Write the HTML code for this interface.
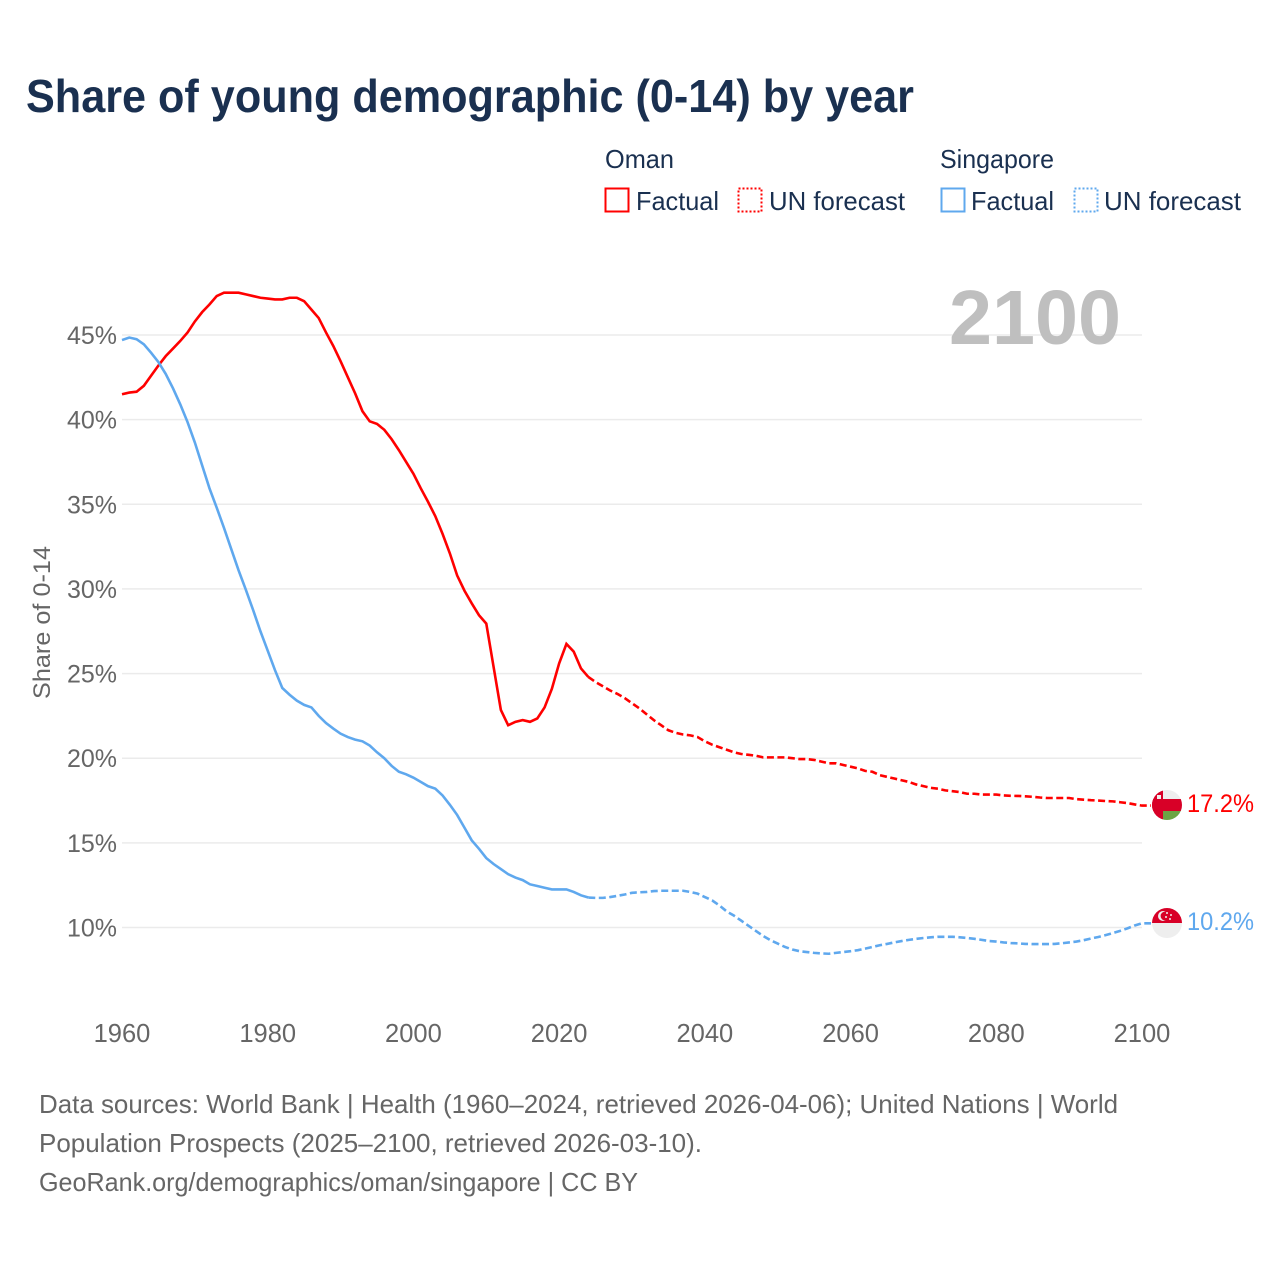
<!DOCTYPE html>
<html lang="en">
<head>
<meta charset="utf-8">
<title>Share of young demographic (0-14) by year</title>
<style>
html,body{margin:0;padding:0;background:#fff;}
svg{display:block;}
text{font-family:"Liberation Sans",sans-serif;}
</style>
</head>
<body>
<svg id="chart" xmlns="http://www.w3.org/2000/svg" width="1280" height="1280" viewBox="0 0 1280 1280">
  <rect width="1280" height="1280" fill="#fff"/>
  <text x="26" y="112" font-size="46" font-weight="700" fill="#1a3050" textLength="888" lengthAdjust="spacingAndGlyphs">Share of young demographic (0-14) by year</text>

  <g font-size="26" fill="#1a3050">
    <text x="605" y="168" textLength="69" lengthAdjust="spacingAndGlyphs">Oman</text>
    <rect x="605.5" y="188.5" width="23" height="23" fill="#fff" stroke="#ff0000" stroke-width="2"/>
    <text x="636" y="210" textLength="83" lengthAdjust="spacingAndGlyphs">Factual</text>
    <rect x="738.5" y="188.5" width="23" height="23" fill="#fff" stroke="#ff0000" stroke-width="2" stroke-dasharray="2 2"/>
    <text x="769" y="210" textLength="136" lengthAdjust="spacingAndGlyphs">UN forecast</text>
    <text x="940" y="168" textLength="114" lengthAdjust="spacingAndGlyphs">Singapore</text>
    <rect x="941.5" y="188.5" width="23" height="23" fill="#fff" stroke="#5fa8ee" stroke-width="2"/>
    <text x="971" y="210" textLength="83" lengthAdjust="spacingAndGlyphs">Factual</text>
    <rect x="1074.5" y="188.5" width="23" height="23" fill="#fff" stroke="#5fa8ee" stroke-width="2" stroke-dasharray="2 2"/>
    <text x="1104" y="210" textLength="137" lengthAdjust="spacingAndGlyphs">UN forecast</text>
  </g>

  <g id="grid"></g>
  <text x="949" y="344" font-size="77" font-weight="700" fill="#bfbfbf" textLength="172" lengthAdjust="spacingAndGlyphs">2100</text>
  <g id="yticks"></g>
  <g id="xticks"></g>
  <text transform="translate(50 622.5) rotate(-90)" text-anchor="middle" font-size="24" fill="#666" textLength="153" lengthAdjust="spacingAndGlyphs">Share of 0-14</text>
  <g id="lines"></g>

  <defs>
    <clipPath id="clip-oman"><circle cx="1167" cy="805" r="15"/></clipPath>
    <clipPath id="clip-singapore"><circle cx="1167" cy="923" r="15"/></clipPath>
  </defs>
  <g clip-path="url(#clip-oman)">
    <rect x="1152" y="790" width="30" height="30" fill="#eeeeee"/>
    <rect x="1163" y="810" width="19" height="10" fill="#6da544"/>
    <rect x="1152" y="799" width="30" height="12" fill="#d80027"/>
    <rect x="1152" y="790" width="11" height="30" fill="#d80027"/>
    <rect x="1157" y="795" width="4" height="4" fill="#eeeeee"/>
  </g>
  <g clip-path="url(#clip-singapore)">
    <rect x="1152" y="908" width="30" height="15" fill="#d80027"/>
    <rect x="1152" y="923" width="30" height="15" fill="#eeeeee"/>
    <circle cx="1163" cy="916" r="5" fill="#eeeeee"/>
    <circle cx="1165" cy="916" r="4.4" fill="#d80027"/>
    <circle cx="1167" cy="913" r="1" fill="#eeeeee"/>
    <circle cx="1171" cy="915" r="1" fill="#eeeeee"/>
    <circle cx="1166" cy="917" r="1" fill="#eeeeee"/>
    <circle cx="1170" cy="919" r="1" fill="#eeeeee"/>
  </g>
  <text id="end-oman" x="1187" y="812" font-size="25" fill="#ff0000" textLength="67" lengthAdjust="spacingAndGlyphs"></text>
  <text id="end-singapore" x="1187" y="930" font-size="25" fill="#5fa8ee" textLength="67" lengthAdjust="spacingAndGlyphs"></text>

  <g font-size="26" fill="#666">
    <text x="39" y="1113" textLength="1079" lengthAdjust="spacingAndGlyphs">Data sources: World Bank | Health (1960–2024, retrieved 2026-04-06); United Nations | World</text>
    <text x="39" y="1152" textLength="663" lengthAdjust="spacingAndGlyphs">Population Prospects (2025–2100, retrieved 2026-03-10).</text>
    <text x="39" y="1191" textLength="599" lengthAdjust="spacingAndGlyphs">GeoRank.org/demographics/oman/singapore | CC BY</text>
  </g>
</svg>
<script>
const xTickYears = [1960, 1980, 2000, 2020, 2040, 2060, 2080, 2100];
const yTickValues = [10, 15, 20, 25, 30, 35, 40, 45];
const factualStartYear = 1960;
const forecastStartYear = 2024;

const omanFactual = [
  41.5,41.6,41.65,42.0,42.6,43.2,43.75,44.2,44.65,45.15,
  45.8,46.35,46.8,47.3,47.5,47.5,47.5,47.4,47.3,47.2,
  47.15,47.1,47.1,47.2,47.2,47.0,46.5,46.0,45.15,44.35,
  43.45,42.5,41.55,40.5,39.9,39.75,39.4,38.85,38.2,37.5,
  36.8,35.95,35.15,34.3,33.25,32.1,30.8,29.9,29.15,28.45,
  27.95,25.4,22.85,21.95,22.15,22.25,22.15,22.35,23.0,24.1,
  25.6,26.75,26.3,25.3,24.8
];
const omanForecast = [
  24.8,24.5,24.25,24.0,23.8,23.55,23.25,22.95,22.6,22.25,21.95,
  21.65,21.5,21.4,21.35,21.25,21.0,20.8,20.65,20.5,20.35,
  20.25,20.2,20.15,20.05,20.05,20.05,20.05,20.0,19.95,19.95,
  19.9,19.8,19.7,19.7,19.6,19.5,19.4,19.25,19.2,19.0,
  18.9,18.8,18.7,18.6,18.45,18.35,18.25,18.2,18.1,18.05,
  18.0,17.9,17.9,17.85,17.85,17.85,17.8,17.78,17.77,17.75,
  17.72,17.68,17.65,17.65,17.65,17.65,17.58,17.55,17.52,17.5,
  17.47,17.45,17.4,17.35,17.27,17.2
];
const singaporeFactual = [
  44.7,44.85,44.75,44.45,43.95,43.4,42.7,41.85,40.9,39.85,
  38.65,37.3,35.95,34.8,33.6,32.35,31.1,29.95,28.75,27.5,
  26.35,25.2,24.15,23.75,23.4,23.15,23.0,22.5,22.08,21.75,
  21.45,21.25,21.1,21.0,20.75,20.35,20.0,19.55,19.2,19.05,
  18.85,18.6,18.35,18.2,17.8,17.25,16.65,15.9,15.15,14.65,
  14.1,13.75,13.45,13.15,12.95,12.8,12.55,12.45,12.35,12.25,
  12.25,12.25,12.1,11.9,11.77
];
const singaporeForecast = [
  11.77,11.75,11.75,11.8,11.87,11.95,12.05,12.08,12.1,12.15,12.17,
  12.17,12.17,12.17,12.1,12.0,11.8,11.6,11.3,10.95,10.7,
  10.4,10.1,9.8,9.5,9.25,9.05,8.85,8.7,8.6,8.55,
  8.5,8.47,8.45,8.5,8.55,8.6,8.66,8.75,8.85,8.95,
  9.03,9.12,9.2,9.27,9.33,9.38,9.42,9.45,9.45,9.45,
  9.42,9.38,9.33,9.27,9.2,9.17,9.12,9.08,9.06,9.03,
  9.02,9.02,9.02,9.03,9.07,9.12,9.17,9.25,9.35,9.44,
  9.55,9.67,9.8,9.95,10.12,10.25
];
const endLabelOman = "17.2%";
const endLabelSingapore = "10.2%";

const NS = "http://www.w3.org/2000/svg";
const xScale = year => 122 + (year - 1960) * (1020 / 140);
const yScale = value => 335 + (45 - value) * (592.5 / 35);

function linePath(values, startYear, leader) {
  let d = "";
  values.forEach(function (v, i) {
    d += (i ? "L" : "M") + xScale(startYear + i).toFixed(2) + " " + yScale(v).toFixed(2);
  });
  if (leader) {
    d += "L" + (xScale(startYear + values.length - 1) + leader).toFixed(2) + " " + yScale(values[values.length - 1]).toFixed(2);
  }
  return d;
}

const gridGroup = document.getElementById("grid");
const yTickGroup = document.getElementById("yticks");
yTickValues.forEach(function (v) {
  const g = document.createElementNS(NS, "line");
  
  
  g.setAttribute("x1", xScale(1960));
  g.setAttribute("x2", xScale(2100));
  g.setAttribute("y1", yScale(v));
  g.setAttribute("y2", yScale(v));
  g.setAttribute("stroke", "#ebebeb");
  g.setAttribute("stroke-width", "1.5");
  gridGroup.appendChild(g);

  const t = document.createElementNS(NS, "text");
  
  
  t.setAttribute("x", 117);
  t.setAttribute("y", yScale(v) + 9);
  t.setAttribute("text-anchor", "end");
  t.setAttribute("font-size", "25");
  t.setAttribute("fill", "#666");
  t.textContent = v + "%";
  yTickGroup.appendChild(t);
});

const xTickGroup = document.getElementById("xticks");
xTickYears.forEach(function (yr) {
  const t = document.createElementNS(NS, "text");
  
  
  t.setAttribute("x", xScale(yr));
  t.setAttribute("y", 1042);
  t.setAttribute("text-anchor", "middle");
  t.setAttribute("font-size", "25.5");
  t.setAttribute("fill", "#666");
  t.textContent = yr;
  xTickGroup.appendChild(t);
});

const lineGroup = document.getElementById("lines");

const omanFactualLine = document.createElementNS(NS, "path");


omanFactualLine.setAttribute("d", linePath(omanFactual, factualStartYear, 0));
omanFactualLine.setAttribute("fill", "none");
omanFactualLine.setAttribute("stroke", "#ff0000");
omanFactualLine.setAttribute("stroke-width", "2.6");
lineGroup.appendChild(omanFactualLine);

const omanForecastLine = document.createElementNS(NS, "path");


omanForecastLine.setAttribute("d", linePath(omanForecast, forecastStartYear, 9));
omanForecastLine.setAttribute("fill", "none");
omanForecastLine.setAttribute("stroke", "#ff0000");
omanForecastLine.setAttribute("stroke-width", "2.6");
omanForecastLine.setAttribute("stroke-dasharray", "7 3.5");
lineGroup.appendChild(omanForecastLine);

const singaporeFactualLine = document.createElementNS(NS, "path");


singaporeFactualLine.setAttribute("d", linePath(singaporeFactual, factualStartYear, 0));
singaporeFactualLine.setAttribute("fill", "none");
singaporeFactualLine.setAttribute("stroke", "#5fa8ee");
singaporeFactualLine.setAttribute("stroke-width", "2.6");
lineGroup.appendChild(singaporeFactualLine);

const singaporeForecastLine = document.createElementNS(NS, "path");


singaporeForecastLine.setAttribute("d", linePath(singaporeForecast, forecastStartYear, 9));
singaporeForecastLine.setAttribute("fill", "none");
singaporeForecastLine.setAttribute("stroke", "#5fa8ee");
singaporeForecastLine.setAttribute("stroke-width", "2.6");
singaporeForecastLine.setAttribute("stroke-dasharray", "7 3.5");
lineGroup.appendChild(singaporeForecastLine);

document.getElementById("end-oman").textContent = endLabelOman;
document.getElementById("end-singapore").textContent = endLabelSingapore;
</script>
</body>
</html>
